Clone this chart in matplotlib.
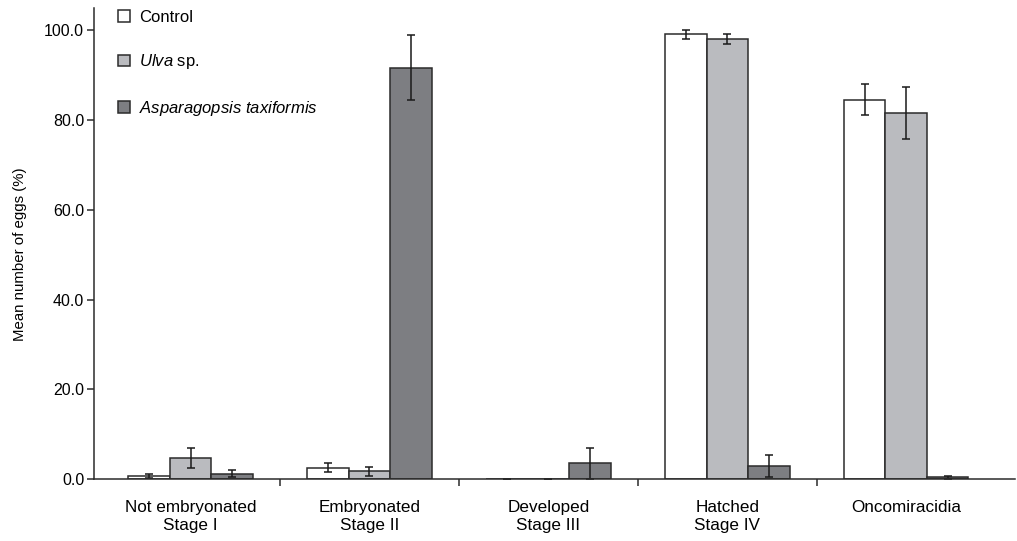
import matplotlib
matplotlib.use("Agg")
import matplotlib.pyplot as plt
import numpy as np

plt.rcParams['font.family'] = ['Liberation Sans', 'DejaVu Sans']
plt.rcParams['mathtext.fontset'] = 'custom'
plt.rcParams['mathtext.rm'] = 'Liberation Sans'
plt.rcParams['mathtext.it'] = 'Liberation Sans:italic'

categories = ["Not embryonated\nStage I", "Embryonated\nStage II", "Developed\nStage III",
              "Hatched\nStage IV", "Oncomiracidia"]
series_names = ["Control", r"$\it{Ulva}$ sp.", r"$\it{Asparagopsis\ taxiformis}$"]
control = [0.7, 2.5, 0.0, 99.1, 84.6]
control_err = [0.5, 1.0, 0.0, 1.1, 3.5]
ulva = [4.7, 1.7, 0.0, 98.1, 81.7]
ulva_err = [2.3, 1.0, 0.0, 1.1, 5.8]
aspara = [1.2, 91.7, 3.5, 2.9, 0.4]
aspara_err = [0.7, 7.2, 3.5, 2.4, 0.3]
yticks = [0, 20, 40, 60, 80, 100]

colors = ["#ffffff", "#babbbf", "#7d7e82"]
edge = "#2b2b2b"

fig = plt.figure(figsize=(10.17, 5.41), dpi=100)
ax = fig.add_axes([0.0924, 0.1146, 0.906, 0.8706])

x = np.arange(len(categories))
w = 0.232
for k, (vals, errs) in enumerate([(control, control_err), (ulva, ulva_err), (aspara, aspara_err)]):
    ax.bar(x + (k - 1) * w, vals, w, yerr=errs, color=colors[k], edgecolor=edge,
           linewidth=1.1, label=series_names[k],
           error_kw=dict(ecolor="#1a1a1a", elinewidth=1.1, capsize=3, capthick=1.1),
           zorder=2)

ax.set_xlim(-0.54, 4.61)
ax.set_ylim(0, 105)
ax.set_yticks(yticks)
ax.set_yticklabels([f"{v:.1f}" for v in yticks], fontsize=11.5)
ax.set_xticks(np.arange(len(categories) - 1) + 0.5)
ax.set_xticklabels([])
ax.set_xticks(x, minor=True)
ax.set_xticklabels(categories, minor=True, fontsize=12.3, linespacing=1.3)
ax.tick_params(axis='x', which='minor', length=0, pad=15)
ax.tick_params(axis='x', which='major', length=5, width=1.1, color=edge, direction='out')
ax.tick_params(axis='y', length=5, width=1.1, color=edge, direction='out', pad=2)
for s in ['top', 'right']:
    ax.spines[s].set_visible(False)
for s in ['left', 'bottom']:
    ax.spines[s].set_linewidth(1.1)
    ax.spines[s].set_color(edge)
ax.set_ylabel("Mean number of eggs (%)", fontsize=10.8)
ax.yaxis.set_label_coords(-0.073, 0.478)

leg = ax.legend(loc='upper left', bbox_to_anchor=(0.111, 0.991), bbox_transform=fig.transFigure,
                frameon=False, fontsize=12, handlelength=0.72, handleheight=0.72,
                handletextpad=0.55, labelspacing=1.65, borderpad=0.3, borderaxespad=0)

fig.savefig("out.png", dpi=100)
